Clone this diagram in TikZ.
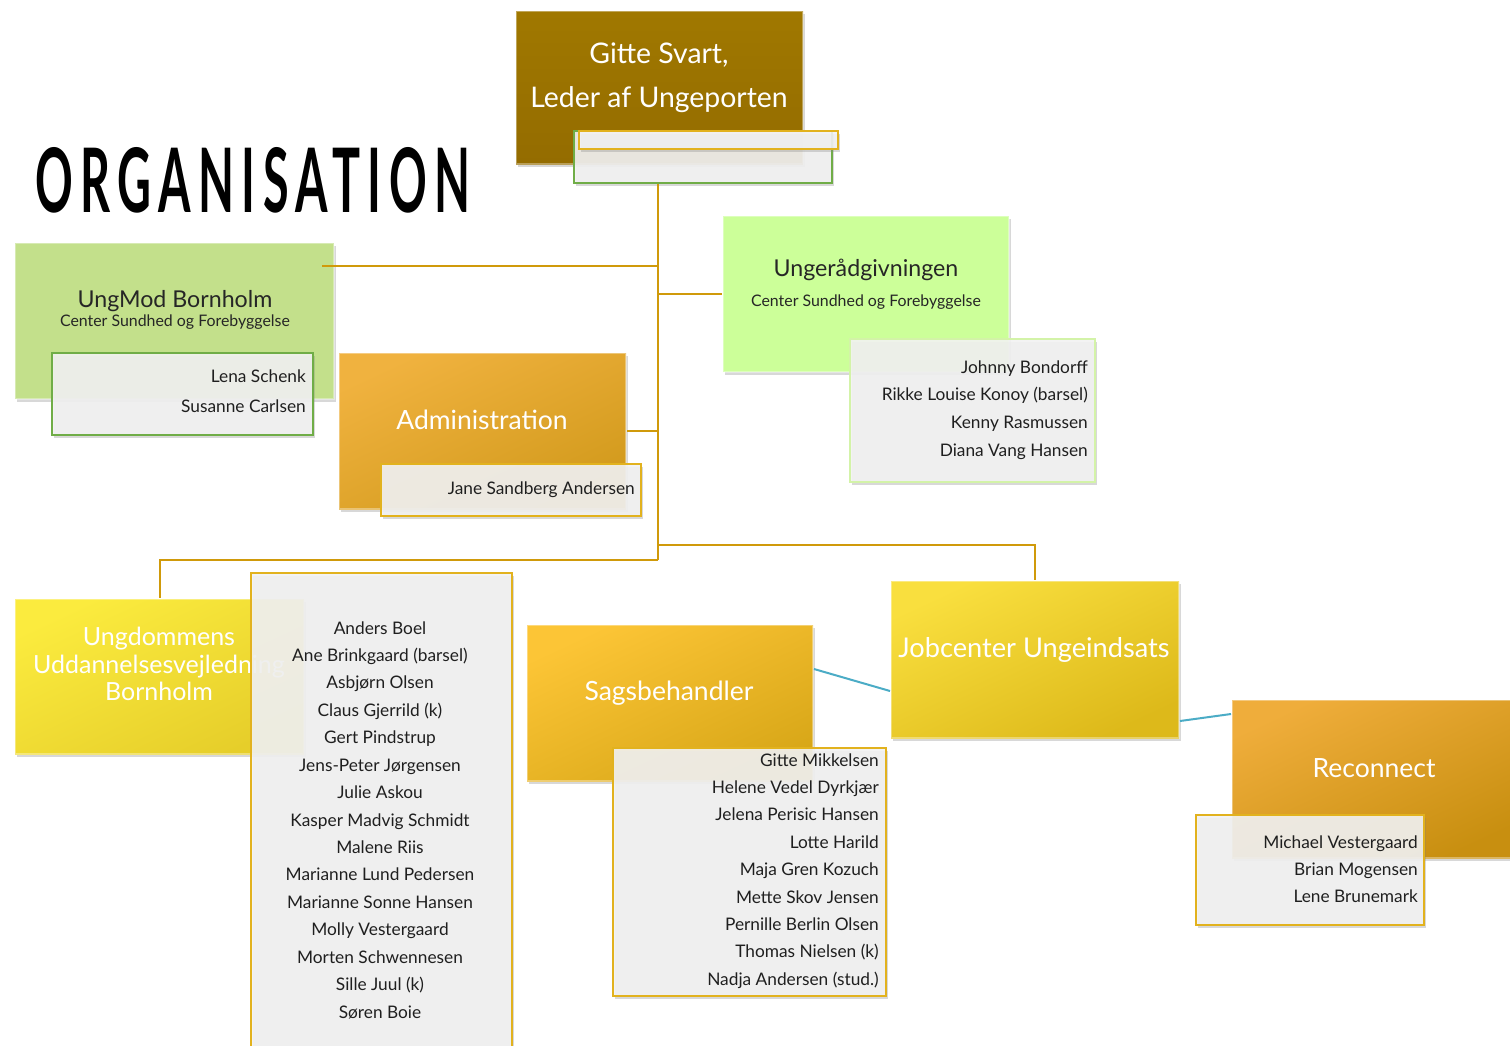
\documentclass[tikz,border=0pt]{standalone}
\usepackage{fontspec}
\usepackage{graphicx}
\setmainfont{Lato}
\newfontfamily\titlefont[LetterSpace=16]{Lato}
\usetikzlibrary{shadows}

\definecolor{ledertop}{HTML}{A07800}
\definecolor{lederbot}{HTML}{946C00}
\definecolor{modgreen}{HTML}{C3E08B}
\definecolor{raadgreen}{HTML}{CCFF99}
\definecolor{admtop}{HTML}{F0B23F}
\definecolor{admbot}{HTML}{D29A1C}
\definecolor{uuvtop}{HTML}{FBEB3E}
\definecolor{uuvbot}{HTML}{E6CE2A}
\definecolor{sagtop}{HTML}{FCC536}
\definecolor{sagbot}{HTML}{D8A718}
\definecolor{jobtop}{HTML}{F9DF3E}
\definecolor{jobbot}{HTML}{DDB91A}
\definecolor{rectop}{HTML}{EFAD3B}
\definecolor{recbot}{HTML}{C88F10}
\definecolor{listfill}{HTML}{F2F2F2}
\definecolor{goldline}{HTML}{D09A0A}
\definecolor{goldedge}{HTML}{E2B21E}
\definecolor{greenedge}{HTML}{70AD47}
\definecolor{paleedge}{HTML}{D3F3A8}
\definecolor{blueline}{HTML}{4BACC6}

\tikzset{
	unit/.style={anchor=north west, inner sep=0pt, draw=white, draw opacity=0.35, line width=2pt,
		drop shadow={opacity=0.3, shadow xshift=2pt, shadow yshift=-3pt}},
	names/.style={anchor=north west, inner sep=0pt, fill=listfill, fill opacity=0.9, draw=#1, line width=1.5pt,
		drop shadow={opacity=0.3, shadow xshift=2pt, shadow yshift=-3pt}},
	head/.style={text=white, align=center, font=\fontsize{26.5}{27.5}\selectfont},
	darkhead/.style={text=black!85, font=\fontsize{23.2}{24}\selectfont},
	centre/.style={text=black!85, font=\fontsize{15.9}{17}\selectfont},
	person/.style={anchor=base east, inner sep=0pt, text=black!88, font=\fontsize{17.3}{19}\selectfont},
	link/.style={goldline, line width=2pt},
	bluelink/.style={blueline, line width=2pt}
}

\begin{document}
\begin{tikzpicture}[x=1pt, y=-1pt]
	\useasboundingbox [fill=white] (0,0) rectangle (1510,1045);

	% title
	\node [anchor=base west, inner sep=0pt] (title) at (35,212)
		{\scalebox{0.525}[1]{\titlefont\bfseries\fontsize{89}{89}\selectfont ORGANISATION}};

	% leder
	\node [unit, top color=ledertop, bottom color=lederbot, minimum width=287, minimum height=153] (leder) at (515,10) {};
	\node [head, font=\fontsize{28.4}{44}\selectfont] (ledertxt) at (659,78) {Gitte Svart,\\Leder af Ungeporten};
	\node [names=greenedge, minimum width=258, minimum height=52] (ledersub) at (573,130) {};
	\node [names=goldedge, minimum width=259, minimum height=18] (ledersub2) at (578,130) {};

	% UngMod
	\node [unit, fill=modgreen, minimum width=319, minimum height=156] (ungmod) at (14,242) {};
	\node [darkhead] (ungmodtxt) at (175,301) {UngMod Bornholm};
	\node [centre] (ungmodcsf) at (175,322) {Center Sundhed og Forebyggelse};
	\node [names=greenedge, minimum width=261, minimum height=82] (ungmodsub) at (51,352) {};
	\node [person] (lena) at (306,382) {Lena Schenk};
	\node [person] (susanne) at (306,412) {Susanne Carlsen};

	% Ungeraadgivningen
	\node [unit, fill=raadgreen, minimum width=286, minimum height=156] (raad) at (722,215) {};
	\node [darkhead] (raadtxt) at (866,270) {Ungerådgivningen};
	\node [centre] (raadcsf) at (866,302) {Center Sundhed og Forebyggelse};
	\node [names=paleedge, minimum width=245, minimum height=143] (raadsub) at (849,338) {};
	\foreach \who [count=\i] in {Johnny Bondorff, Rikke Louise Konoy (barsel), Kenny Rasmussen, Diana Vang Hansen}
		\node [person] (raad\i) at (1088,{373+27.67*(\i-1)}) {\who};

	% Administration
	\node [unit, top color=admtop, bottom color=admbot, shading angle=25, minimum width=287, minimum height=156] (admin) at (338,352) {};
	\node [head] (admintxt) at (482,420) {Administration};
	\node [names=goldedge, minimum width=260, minimum height=52] (adminsub) at (380,463) {};
	\node [person] (jane) at (635,494) {Jane Sandberg Andersen};

	% UU Bornholm
	\node [unit, top color=uuvtop, bottom color=uuvbot, shading angle=25, minimum width=289, minimum height=155] (uuv) at (14,598) {};
	\node [head, font=\fontsize{25}{27.5}\selectfont] (uuvtxt) at (159,664) {Ungdommens\\Uddannelsesvejledning\\Bornholm};
	\node [names=goldedge, minimum width=261, minimum height=490] (uuvsub) at (250,572) {};
	\foreach \who [count=\i] in {Anders Boel, Ane Brinkgaard (barsel), Asbjørn Olsen, Claus Gjerrild (k), Gert Pindstrup,
		Jens-Peter Jørgensen, Julie Askou, Kasper Madvig Schmidt, Malene Riis, Marianne Lund Pedersen,
		Marianne Sonne Hansen, Molly Vestergaard, Morten Schwennesen, Sille Juul (k), Søren Boie}
		\node [person, anchor=base] (uuv\i) at (380,{634+27.43*(\i-1)}) {\who};

	% Jobcenter
	\node [unit, top color=jobtop, bottom color=jobbot, shading angle=25, minimum width=288, minimum height=157] (job) at (890,580) {};
	\node [head, font=\fontsize{27.2}{28}\selectfont] (jobtxt) at (1034,650) {Jobcenter Ungeindsats};

	\node [unit, top color=sagtop, bottom color=sagbot, shading angle=25, minimum width=286, minimum height=156] (sag) at (526,624) {};
	\node [head] (sagtxt) at (669,693) {Sagsbehandler};
	\node [names=goldedge, minimum width=273, minimum height=248] (sagsub) at (612,747) {};
	\foreach \who [count=\i] in {Gitte Mikkelsen, Helene Vedel Dyrkjær, Jelena Perisic Hansen, Lotte Harild, Maja Gren Kozuch,
		Mette Skov Jensen, Pernille Berlin Olsen, Thomas Nielsen (k), Nadja Andersen (stud.)}
		\node [person] (sag\i) at (879,{766+27.4*(\i-1)}) {\who};

	\node [unit, top color=rectop, bottom color=recbot, shading angle=25, minimum width=290, minimum height=158] (recon) at (1231,699) {};
	\node [head] (recontxt) at (1374,768) {Reconnect};
	\node [names=goldedge, minimum width=228, minimum height=110] (reconsub) at (1195,814) {};
	\foreach \who [count=\i] in {Michael Vestergaard, Brian Mogensen, Lene Brunemark}
		\node [person] (recon\i) at (1418,{848+27*(\i-1)}) {\who};

	% lines
	\coordinate (hub) at (658,560);
	\coordinate (split) at (658,545);
	\draw [link] (ledersub.south -| hub) -- (hub);
	\draw [link] ([xshift=-13pt,yshift=-24pt]ungmod.north east) -- ([yshift=-24pt]ungmod.north east -| hub);
	\draw [link] (raad.west) -- (raad.west -| hub);
	\draw [link] (admin.east) -- (admin.east -| hub);
	\draw [link] (hub) -| (uuv.north);
	\draw [link] (split) -| (job.north);
	\draw [bluelink] ([yshift=34pt]sag.east) -- ([yshift=-31.5pt]job.west);
	\draw [bluelink] ([yshift=-61.5pt]job.east) -- ([yshift=65pt]recon.west);
\end{tikzpicture}
\end{document}
